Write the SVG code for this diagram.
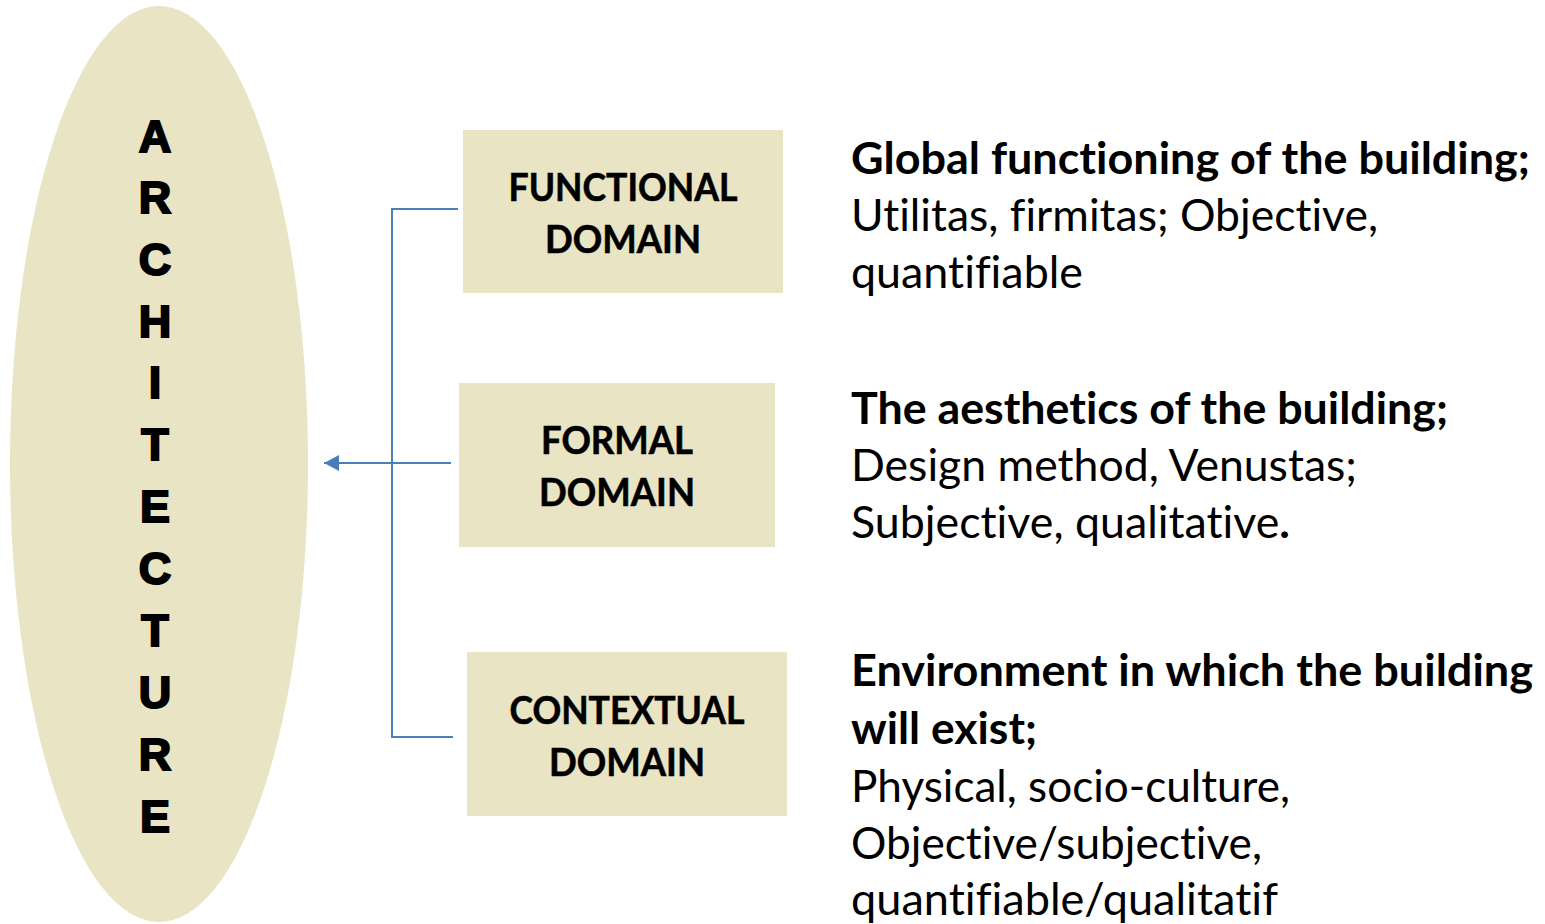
<svg xmlns="http://www.w3.org/2000/svg" width="1545" height="924" viewBox="0 0 1545 924">
  <style>
    .fill { fill: #E9E4C4; }
    .vert { font-family: "Liberation Sans", Arial, sans-serif; font-weight: bold; font-size: 45px; fill: #000; stroke: #000; stroke-width: 2px; text-anchor: middle; }
    .box { font-family: Lato, "Open Sans", sans-serif; font-weight: bold; font-size: 39px; fill: #000; text-anchor: middle; stroke: #000; stroke-width: 0.6px; }
    .desc { font-family: Lato, "Open Sans", sans-serif; font-size: 44px; fill: #000; font-variant-ligatures: none; }
    .b { font-weight: bold; }
    .conn { fill: none; stroke: #4A7EBB; stroke-width: 2; }
  </style>
  <defs>
    <marker id="arrow" markerUnits="userSpaceOnUse" markerWidth="16" markerHeight="16" refX="15" refY="8" orient="auto">
      <path d="M0,0 L15,8 L0,16 Z" fill="#4A7EBB"/>
    </marker>
  </defs>
  <rect width="1545" height="924" fill="#fff"/>

  <g id="architecture">
    <ellipse class="fill" cx="159" cy="464" rx="149" ry="458"/>
    <text class="vert" x="155" y="152">A</text>
    <text class="vert" x="155" y="213">R</text>
    <text class="vert" x="155" y="275">C</text>
    <text class="vert" x="155" y="337">H</text>
    <text class="vert" x="155" y="398">I</text>
    <text class="vert" x="155" y="460">T</text>
    <text class="vert" x="155" y="522">E</text>
    <text class="vert" x="155" y="584">C</text>
    <text class="vert" x="155" y="646">T</text>
    <text class="vert" x="155" y="708">U</text>
    <text class="vert" x="155" y="770">R</text>
    <text class="vert" x="155" y="832">E</text>
  </g>

  <g id="connectors">
    <polyline class="conn" points="458,209 392,209 392,737 453,737"/>
    <line class="conn" x1="451" y1="463" x2="324" y2="463" marker-end="url(#arrow)"/>
  </g>

  <g id="functional">
    <rect class="fill" x="463" y="130" width="320" height="163"/>
    <text class="box" x="623" y="201" textLength="229" lengthAdjust="spacingAndGlyphs">FUNCTIONAL</text>
    <text class="box" x="623" y="253" textLength="156" lengthAdjust="spacingAndGlyphs">DOMAIN</text>
  </g>

  <g id="formal">
    <rect class="fill" x="459" y="383" width="316" height="164"/>
    <text class="box" x="617" y="454" textLength="152" lengthAdjust="spacingAndGlyphs">FORMAL</text>
    <text class="box" x="617" y="506" textLength="156" lengthAdjust="spacingAndGlyphs">DOMAIN</text>
  </g>

  <g id="contextual">
    <rect class="fill" x="467" y="652" width="320" height="164"/>
    <text class="box" x="627" y="724" textLength="235" lengthAdjust="spacingAndGlyphs">CONTEXTUAL</text>
    <text class="box" x="627" y="776" textLength="156" lengthAdjust="spacingAndGlyphs">DOMAIN</text>
  </g>

  <g id="functional-desc">
    <text class="desc b" x="851" y="174" textLength="679" lengthAdjust="spacingAndGlyphs">Global functioning of the building;</text>
    <text class="desc" x="851" y="231" textLength="527" lengthAdjust="spacingAndGlyphs">Utilitas, firmitas; Objective,</text>
    <text class="desc" x="851" y="288" textLength="232" lengthAdjust="spacingAndGlyphs">quantifiable</text>
  </g>

  <g id="formal-desc">
    <text class="desc b" x="851" y="424" textLength="597" lengthAdjust="spacingAndGlyphs">The aesthetics of the building;</text>
    <text class="desc" x="851" y="481" textLength="506" lengthAdjust="spacingAndGlyphs">Design method, Venustas;</text>
    <text class="desc" x="851" y="538" textLength="439" lengthAdjust="spacingAndGlyphs">Subjective, qualitative<tspan class="b">.</tspan></text>
  </g>

  <g id="contextual-desc">
    <text class="desc b" x="851" y="686" textLength="682" lengthAdjust="spacingAndGlyphs">Environment in which the building</text>
    <text class="desc b" x="851" y="744" textLength="186" lengthAdjust="spacingAndGlyphs">will exist;</text>
    <text class="desc" x="851" y="802" textLength="439" lengthAdjust="spacingAndGlyphs">Physical, socio-culture,</text>
    <text class="desc" x="851" y="859" textLength="411" lengthAdjust="spacingAndGlyphs">Objective/subjective,</text>
    <text class="desc" x="851" y="915" textLength="427" lengthAdjust="spacingAndGlyphs">quantifiable/qualitatif</text>
  </g>
</svg>
